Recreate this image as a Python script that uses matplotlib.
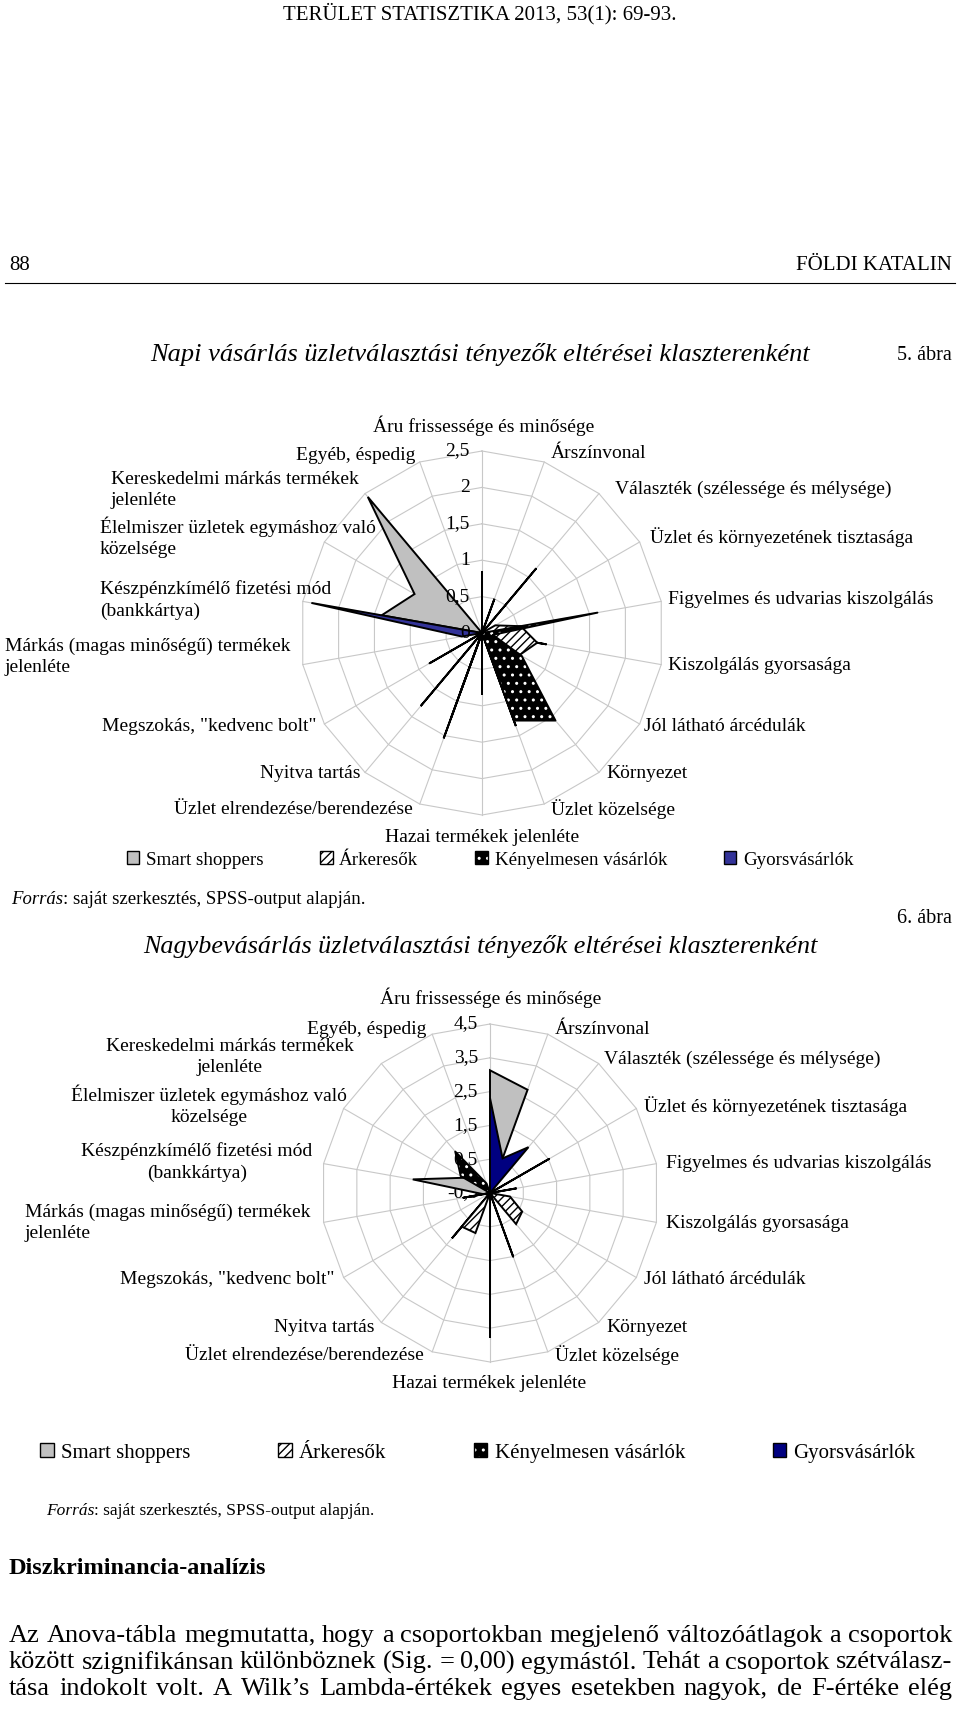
import matplotlib.pyplot as plt
import numpy as np
from matplotlib.lines import Line2D
from matplotlib.patches import Patch
from matplotlib import transforms

plt.rcParams['font.family'] = ['Liberation Serif', 'DejaVu Serif']
plt.rcParams['hatch.linewidth'] = 1.0

W, H = 960, 1713

categories = [
    "Áru frissessége és minősége", "Árszínvonal", "Választék (szélessége és mélysége)",
    "Üzlet és környezetének tisztasága", "Figyelmes és udvarias kiszolgálás",
    "Kiszolgálás gyorsasága", "Jól látható árcédulák", "Környezet", "Üzlet közelsége",
    "Hazai termékek jelenléte", "Üzlet elrendezése/berendezése", "Nyitva tartás",
    'Megszokás, "kedvenc bolt"', "Márkás (magas minőségű) termékek\njelenléte",
    "Készpénzkímélő fizetési mód\n(bankkártya)", "Élelmiszer üzletek egymáshoz való\nközelsége",
    "Kereskedelmi márkás termékek\njelenléte", "Egyéb, éspedig"]
series_names = ["Smart shoppers", "Árkeresők", "Kényelmesen vásárlók", "Gyorsvásárlók"]

# 5. ábra - napi vásárlás
napi_smart = [0.85, 0, 1.16, 0, 0, 0.9, 0, 0, 1.36, 0, 1.54, 0, 0, 0, 1.4, 1.07, 2.44, 0]
napi_arkeresok = [0, 0.5, 0, 0.21, 0.54, 0.77, 0.6, 0, 0, 0, 0.87, 0, 0, 0, 0, 0, 0, 0]
napi_kenyelmes = [0, 0, 0, 0, 1.61, 0.15, 0.63, 1.57, 1.28, 0, 1.24, 0, 0.83, 0, 0, 0, 0, 0]
napi_gyors = [0, 0, 0, 0, 0, 0, 0, 0, 0, 0.85, 0, 1.31, 0, 0.28, 2.38, 0, 0, 0]
napi_ticks = [0, 0.5, 1, 1.5, 2, 2.5]
napi_ticklabels = ["0", "0,5", "1", "1,5", "2", "2,5"]

# 6. ábra - nagybevásárlás
nagy_smart = [3.13, 2.75, -0.5, -0.5, -0.5, -0.5, -0.5, -0.5, -0.5, -0.5, -0.5, 1.25, -0.5, -0.3, 1.82, 0.4, 0.2, -0.5]
nagy_arkeresok = [-0.5, -0.5, -0.5, -0.5, -0.5, 0.1, 0.6, 0.7, -0.5, -0.5, 0.76, 0.8, -0.5, -0.5, -0.5, -0.5, -0.5, -0.5]
nagy_kenyelmes = [-0.5, -0.5, -0.5, 1.52, -0.5, -0.5, -0.5, -0.5, 1.5, -0.5, -0.5, -0.5, -0.5, 0.3, -0.5, 0.5, 1.1, -0.2]
nagy_gyors = [2.31, 0.59, 1.27, -0.5, 0.3, -0.5, -0.5, -0.5, -0.5, 3.78, -0.5, -0.5, -0.5, -0.5, -0.5, -0.5, -0.5, -0.5]
nagy_ticks = [-0.5, 0.5, 1.5, 2.5, 3.5, 4.5]
nagy_ticklabels = ["-0,5", "0,5", "1,5", "2,5", "3,5", "4,5"]

# label positions in pixels (x, y from top, ha, multialignment)
napi_label_pos = [(484, 426, 'center', 'center'), (551, 454, 'left', 'left'), (615, 489, 'left', 'left'),
                  (650, 537, 'left', 'left'), (668, 600, 'left', 'left'), (668, 666, 'left', 'left'),
                  (644, 726, 'left', 'left'), (606, 774, 'left', 'left'), (551, 809, 'left', 'left'),
                  (482, 838, 'center', 'center'), (413, 809, 'right', 'right'), (360, 774, 'right', 'right'),
                  (317, 726, 'right', 'right'), (5, 657, 'left', 'left'), (100, 600, 'left', 'left'),
                  (100, 537, 'left', 'left'), (111, 490, 'left', 'left'), (415, 455, 'right', 'right')]
nagy_label_pos = [(491, 998, 'center', 'center'), (555, 1029, 'left', 'left'), (604, 1059, 'left', 'left'),
                  (644, 1106, 'left', 'left'), (666, 1164, 'left', 'left'), (666, 1223, 'left', 'left'),
                  (644, 1279, 'left', 'left'), (606, 1327, 'left', 'left'), (555, 1355, 'left', 'left'),
                  (489, 1384, 'center', 'center'), (424, 1355, 'right', 'right'), (375, 1327, 'right', 'right'),
                  (335, 1279, 'right', 'right'), (25, 1223, 'left', 'left'), (197, 1162, 'center', 'center'),
                  (209, 1105, 'center', 'center'), (230, 1057, 'center', 'center'), (426, 1029, 'right', 'right')]

GRID = '#c8c8c8'
GRAY = '#c0c0c0'


def figPos(x, y):
    return x / W, 1 - y / H


def addAxes(fig, cx, cy, radius):
    x0, y0 = figPos(cx - radius, cy + radius)
    return fig.add_axes([x0, y0, 2 * radius / W, 2 * radius / H], projection='polar')


def drawRadar(fig, ax, series, ticks, ticklabels, blue, labelsOnTop):
    n = len(categories)
    angles = np.deg2rad(np.arange(n) * 360.0 / n)
    closed = np.append(angles, angles[0])
    rmin, rmax = ticks[0], ticks[-1]
    ax.set_theta_zero_location('N')
    ax.set_theta_direction(-1)
    ax.set_ylim(rmin, rmax)
    ax.grid(False)
    ax.set_xticks([])
    ax.set_yticks([])
    ax.spines['polar'].set_visible(False)
    ax.patch.set_alpha(0)

    # polygon grid
    for r in ticks[1:]:
        ax.plot(closed, [r] * (n + 1), color=GRID, lw=0.8, zorder=1, clip_on=False)
    for a in angles:
        ax.plot([a, a], [rmin, rmax], color=GRID, lw=0.8, zorder=1, clip_on=False)

    smart, arker, kenyelmes, gyors = [np.append(s, s[0]) for s in series]
    ax.fill(closed, smart, facecolor=GRAY, edgecolor='black', lw=1.4, zorder=3)
    ax.fill(closed, arker, facecolor='white', edgecolor='black', hatch='////', lw=1.4, zorder=4)
    ax.fill(closed, kenyelmes, facecolor='black', edgecolor='white', hatch='..', lw=0, zorder=5)
    ax.plot(closed, kenyelmes, color='black', lw=1.4, zorder=5)
    ax.fill(closed, gyors, facecolor=blue, edgecolor='black', lw=1.4, zorder=6)

    off = transforms.offset_copy(ax.transData, fig=fig, x=-12, y=0, units='dots')
    for r, lab in zip(ticks, ticklabels):
        ax.text(0, r, lab, transform=off, ha='right', va='center', fontsize=14,
                zorder=8 if labelsOnTop else 2, clip_on=False)


def drawLabels(fig, positions):
    for cat, (x, y, ha, ma) in zip(categories, positions):
        fx, fy = figPos(x, y)
        fig.text(fx, fy, cat, ha=ha, va='center', multialignment=ma, fontsize=14, linespacing=1.3)


def drawLegend(fig, blue, cx, cy, size, spacing):
    handles = [Patch(facecolor=GRAY, edgecolor='black'),
               Patch(facecolor='white', edgecolor='black', hatch='////'),
               (Patch(facecolor='black', edgecolor='white', hatch='..', lw=0),
                Patch(facecolor='none', edgecolor='black')),
               Patch(facecolor=blue, edgecolor='black')]
    fig.legend(handles, series_names, loc='center', bbox_to_anchor=figPos(cx, cy), ncol=4,
               frameon=False, fontsize=size, handlelength=0.65, handleheight=0.65,
               handletextpad=0.35, columnspacing=spacing)


def mixedText(fig, x, y, parts, size):
    r = fig.canvas.get_renderer()
    for txt, style in parts:
        fx, fy = figPos(x, y)
        t = fig.text(fx, fy, txt, fontsize=size, fontstyle=style, va='baseline')
        x += t.get_window_extent(r).width


def justifyLine(fig, text, y, x0, x1, size):
    # spread the words so the line fills x0..x1 (y is the baseline)
    words = text.split(' ')
    r = fig.canvas.get_renderer()
    objs = [fig.text(0, figPos(0, y)[1], w, fontsize=size, va='baseline') for w in words]
    widths = [o.get_window_extent(r).width for o in objs]
    gap = (x1 - x0 - sum(widths)) / (len(words) - 1)
    x = x0
    for o, w in zip(objs, widths):
        o.set_x(x / W)
        x += w + gap


fig = plt.figure(figsize=(W / 100, H / 100), dpi=100)

# page header
fig.text(*figPos(480, 14), "TERÜLET STATISZTIKA 2013, 53(1): 69-93.", ha='center', va='center', fontsize=15)
fig.text(*figPos(9, 266), "88", ha='left', va='center', fontsize=15)
fig.text(*figPos(952, 266), "FÖLDI KATALIN", ha='right', va='center', fontsize=15)
fig.add_artist(Line2D([5 / W, 955 / W], [1 - 283 / H] * 2, transform=fig.transFigure, color='black', lw=0.8))

# 5. ábra
fig.text(*figPos(952, 355), "5. ábra", ha='right', va='center', fontsize=14.5)
fig.text(*figPos(480, 355), "Napi vásárlás üzletválasztási tényezők eltérései klaszterenként",
         ha='center', va='center', fontsize=19, fontstyle='italic')
ax1 = addAxes(fig, 482, 633, 182)
drawRadar(fig, ax1, [napi_smart, napi_arkeresok, napi_kenyelmes, napi_gyors],
          napi_ticks, napi_ticklabels, '#333399', True)
drawLabels(fig, napi_label_pos)
drawLegend(fig, '#333399', 490, 860, 13.7, 3.0)
mixedText(fig, 11, 904, [("Forrás", 'italic'), (": saját szerkesztés, SPSS-output alapján.", 'normal')], 13.5)

# 6. ábra
fig.text(*figPos(952, 919), "6. ábra", ha='right', va='center', fontsize=14.5)
fig.text(*figPos(480, 947), "Nagybevásárlás üzletválasztási tényezők eltérései klaszterenként",
         ha='center', va='center', fontsize=18.8, fontstyle='italic')
ax2 = addAxes(fig, 490, 1193, 169)
drawRadar(fig, ax2, [nagy_smart, nagy_arkeresok, nagy_kenyelmes, nagy_gyors],
          nagy_ticks, nagy_ticklabels, '#000080', False)
drawLabels(fig, nagy_label_pos)
drawLegend(fig, '#000080', 478, 1453, 15, 4.2)
mixedText(fig, 46, 1515, [("Forrás", 'italic'), (": saját szerkesztés, SPSS-output alapján.", 'normal')], 12.5)

# body text
fig.text(*figPos(9, 1569), "Diszkriminancia-analízis", ha='left', va='center', fontsize=17.5, fontweight='bold')
body = ["Az Anova-tábla megmutatta, hogy a csoportokban megjelenő változóátlagok a csoportok",
        "között szignifikánsan különböznek (Sig. = 0,00) egymástól. Tehát a csoportok szétválasz-",
        "tása indokolt volt. A Wilk’s Lambda-értékek egyes esetekben nagyok, de F-értéke elég"]
for i, line in enumerate(body):
    justifyLine(fig, line, 1642 + i * 26.5, 9, 952, 19)

fig.savefig("out.png", dpi=100)
